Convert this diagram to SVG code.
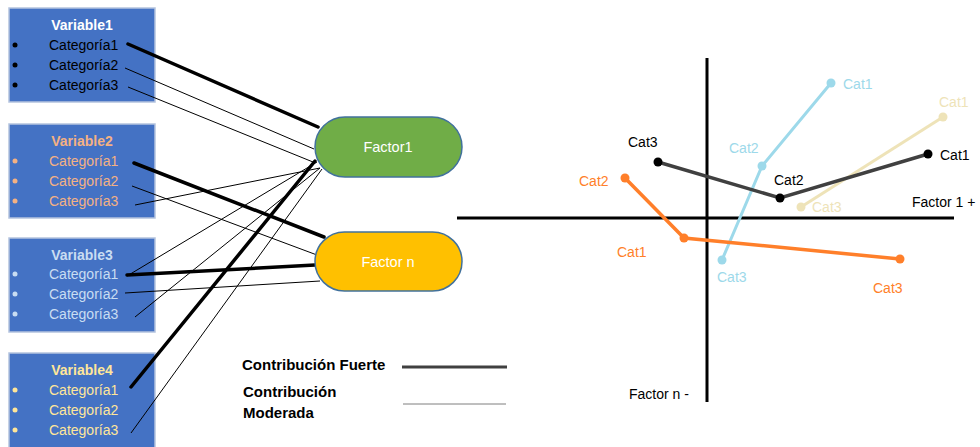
<svg xmlns="http://www.w3.org/2000/svg" width="980" height="447" viewBox="0 0 980 447">
  <style>
    text { font-family: "Liberation Sans", Arial, sans-serif; }
    .box { fill: #4472C4; stroke: #B4C3DE; stroke-width: 1.5; }
    .title { font-size: 14px; font-weight: bold; text-anchor: middle; }
    .cat { font-size: 14px; }
    .strong { stroke: #000; stroke-width: 3.5; stroke-linecap: round; fill: none; }
    .mod { stroke: #000; stroke-width: 1; fill: none; }
    .factor { stroke: #41719C; stroke-width: 1.5; }
    .ftext { font-size: 14.5px; fill: #fff; text-anchor: middle; }
    .axis { stroke: #000; stroke-width: 3; }
    .lbl { font-size: 14px; }
    .legend { font-size: 15px; font-weight: bold; fill: #000; }
  </style>

  <!-- variable boxes -->
  <g id="variable1">
    <rect class="box" x="9" y="8" width="146" height="94"/>
    <text class="title" x="82" y="30" fill="#FFFFFF">Variable1</text>
    <g fill="#000">
      <circle cx="15" cy="45" r="2.5"/><circle cx="15" cy="65" r="2.5"/><circle cx="15" cy="85" r="2.5"/>
      <text class="cat" x="49" y="50">Categoría1</text>
      <text class="cat" x="49" y="70">Categoría2</text>
      <text class="cat" x="49" y="90">Categoría3</text>
    </g>
  </g>
  <g id="variable2">
    <rect class="box" x="9" y="124" width="146" height="94"/>
    <text class="title" x="82" y="146" fill="#F4B183">Variable2</text>
    <g fill="#F4B183">
      <circle cx="15" cy="161" r="2.5"/><circle cx="15" cy="181" r="2.5"/><circle cx="15" cy="201" r="2.5"/>
      <text class="cat" x="49" y="166">Categoría1</text>
      <text class="cat" x="49" y="186">Categoría2</text>
      <text class="cat" x="49" y="206">Categoría3</text>
    </g>
  </g>
  <g id="variable3">
    <rect class="box" x="9" y="238" width="146" height="94"/>
    <text class="title" x="82" y="260" fill="#C9DDF2">Variable3</text>
    <g fill="#C9DDF2">
      <circle cx="15" cy="274" r="2.5"/><circle cx="15" cy="294" r="2.5"/><circle cx="15" cy="314" r="2.5"/>
      <text class="cat" x="49" y="279">Categoría1</text>
      <text class="cat" x="49" y="299">Categoría2</text>
      <text class="cat" x="49" y="319">Categoría3</text>
    </g>
  </g>
  <g id="variable4">
    <rect class="box" x="9" y="353" width="146" height="100"/>
    <text class="title" x="82" y="375" fill="#FFE699">Variable4</text>
    <g fill="#FFE699">
      <circle cx="15" cy="390" r="2.5"/><circle cx="15" cy="410" r="2.5"/><circle cx="15" cy="430" r="2.5"/>
      <text class="cat" x="49" y="395">Categoría1</text>
      <text class="cat" x="49" y="415">Categoría2</text>
      <text class="cat" x="49" y="435">Categoría3</text>
    </g>
  </g>

  <!-- connectors from categories to factors -->
  <g id="connectors">
    <line class="strong" x1="128" y1="44" x2="318" y2="127"/>
    <line class="mod" x1="125" y1="68" x2="314" y2="149"/>
    <line class="mod" x1="128" y1="87" x2="313" y2="162"/>
    <line class="strong" x1="134" y1="163" x2="324" y2="237"/>
    <line class="mod" x1="132" y1="186" x2="317" y2="255"/>
    <line class="mod" x1="135" y1="205" x2="320" y2="168"/>
    <line class="strong" x1="127" y1="275" x2="315" y2="265"/>
    <line class="mod" x1="127" y1="276" x2="317" y2="162"/>
    <line class="mod" x1="125" y1="293" x2="320" y2="281"/>
    <line class="mod" x1="135" y1="317" x2="320" y2="168"/>
    <line class="strong" x1="131" y1="387" x2="315" y2="161"/>
    <line class="mod" x1="131" y1="433" x2="322" y2="169"/>
  </g>

  <!-- factors -->
  <g id="factor1">
    <rect class="factor" x="315" y="117" width="147" height="60" rx="30" fill="#70AD47"/>
    <text class="ftext" x="388" y="152">Factor1</text>
  </g>
  <g id="factorN">
    <rect class="factor" x="315" y="232" width="147" height="59" rx="29.5" fill="#FFC000"/>
    <text class="ftext" x="388" y="267">Factor n</text>
  </g>

  <!-- legend -->
  <g id="legend">
    <text class="legend" x="242" y="370">Contribución Fuerte</text>
    <line x1="402" y1="367" x2="507" y2="367" stroke="#404040" stroke-width="3"/>
    <text class="legend" x="243" y="397">Contribución</text>
    <text class="legend" x="243" y="418">Moderada</text>
    <line x1="403" y1="404" x2="506" y2="404" stroke="#7F7F7F" stroke-width="1"/>
  </g>

  <!-- factor map -->
  <g id="factor-map">
    <line class="axis" x1="457" y1="218" x2="954" y2="218"/>
    <line class="axis" x1="707" y1="58" x2="707" y2="402"/>
    <text class="lbl" x="912" y="207" fill="#000">Factor 1 +</text>
    <text class="lbl" x="629" y="399" fill="#000">Factor n -</text>

    <g id="series-blue" fill="#9DD9EA" stroke="#9DD9EA">
      <polyline points="831,83 762,166 722,260" fill="none" stroke-width="3"/>
      <circle cx="831" cy="83" r="4.5" stroke="none"/>
      <circle cx="762" cy="166" r="4.5" stroke="none"/>
      <circle cx="722" cy="260" r="4.5" stroke="none"/>
      <text class="lbl" x="843" y="89" stroke="none">Cat1</text>
      <text class="lbl" x="729" y="153" stroke="none">Cat2</text>
      <text class="lbl" x="717" y="282" stroke="none">Cat3</text>
    </g>

    <g id="series-beige" fill="#EEE3B8" stroke="#EEE3B8">
      <polyline points="943,117 801,207" fill="none" stroke-width="3"/>
      <circle cx="943" cy="117" r="4.5" stroke="none"/>
      <circle cx="801" cy="207" r="4.5" stroke="none"/>
      <text class="lbl" x="939" y="107" stroke="none">Cat1</text>
      <text class="lbl" x="812" y="212" stroke="none">Cat3</text>
    </g>

    <g id="series-black" fill="#000" stroke="#404040">
      <polyline points="658,162 780,198 928,154" fill="none" stroke-width="3.5"/>
      <circle cx="658" cy="162" r="4.5" stroke="none"/>
      <circle cx="780" cy="198" r="4.5" stroke="none"/>
      <circle cx="928" cy="154" r="4.5" stroke="none"/>
      <text class="lbl" x="628" y="147" stroke="none">Cat3</text>
      <text class="lbl" x="774" y="185" stroke="none">Cat2</text>
      <text class="lbl" x="940" y="160" stroke="none">Cat1</text>
    </g>

    <g id="series-orange" fill="#FF7F2A" stroke="#FF7F2A">
      <polyline points="625,178 684,238 900,259" fill="none" stroke-width="3.5"/>
      <circle cx="625" cy="178" r="4.5" stroke="none"/>
      <circle cx="684" cy="238" r="4.5" stroke="none"/>
      <circle cx="900" cy="259" r="4.5" stroke="none"/>
      <text class="lbl" x="579" y="186" stroke="none">Cat2</text>
      <text class="lbl" x="617" y="257" stroke="none">Cat1</text>
      <text class="lbl" x="873" y="293" stroke="none">Cat3</text>
    </g>
  </g>
</svg>
